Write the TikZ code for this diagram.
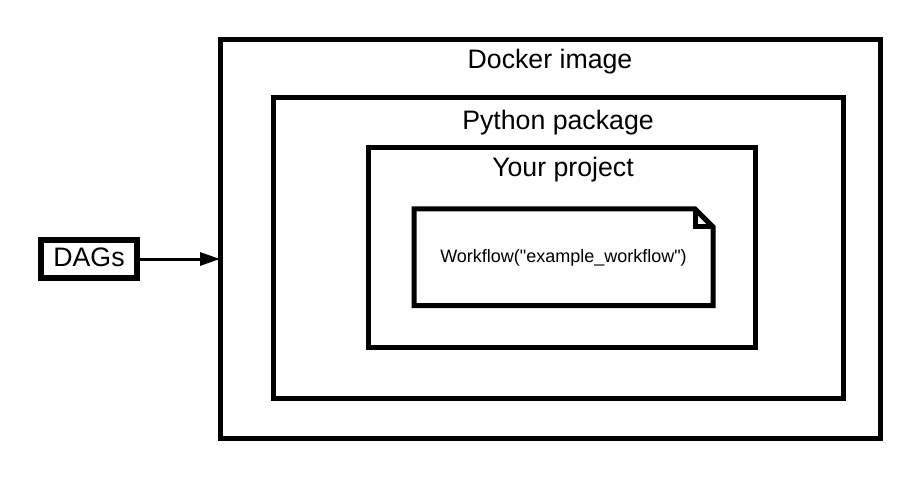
\documentclass[tikz,border=0pt]{standalone}
\usepackage{fontspec}
\setmainfont{Liberation Sans}
\newfontfamily\plainfont{Liberation Sans}[Ligatures=TeXOff]
\usetikzlibrary{arrows.meta}
\tikzset{
  box/.style={draw=black, line width=5pt, inner sep=0pt, outer sep=0pt},
  lbl/.style={anchor=base, inner sep=0pt, font=\fontsize{26.7}{30}\selectfont},
  doclbl/.style={inner sep=0pt, font=\plainfont\fontsize{18}{21}\selectfont},
  docshape/.style={draw=black, line width=5pt, line join=miter},
  conn/.style={line width=3pt, -{Triangle[length=20pt, width=13pt]}}
}
\begin{document}
\begin{tikzpicture}[x=1pt, y=-1pt]
\useasboundingbox[fill=white] (0,0) rectangle (920,478);
% boxes
\node[box, minimum width=660.5pt, minimum height=399pt] (outer) at (550.25,239) {};
\node[box, minimum width=570pt, minimum height=300pt] (python) at (558.5,248) {};
\node[box, minimum width=387.5pt, minimum height=199.5pt] (project) at (561.75,247.75) {};
% labels
\node[lbl] (outerlbl) at (550,68.5) {Docker image};
\node[lbl] (pythonlbl) at (558,129.5) {Python package};
\node[lbl] (projectlbl) at (563,176.5) {Your project};
% document
\node[inner sep=0pt, outer sep=0pt, minimum width=299pt, minimum height=96.5pt] (doc) at (563.5,257.25) {};
\draw[docshape] (doc.north west) -- ([xshift=-18pt]doc.north east) -- ([yshift=-18pt]doc.north east) -- (doc.south east) -- (doc.south west) -- cycle;
\draw[docshape] ([xshift=-18pt]doc.north east) |- ([yshift=-18pt]doc.north east);
\node[doclbl, anchor=base] (doctext) at (563.5,262) {Workflow("example\_workflow")};
% DAGs
\node[draw=black, line width=6pt, inner sep=0pt, outer sep=0pt, minimum width=96pt, minimum height=38pt] (dags) at (89,259) {};
\node[lbl] (dagslbl) at (89,266.5) {DAGs};
\draw[conn] (dags.east) -- (dags.east -| outer.west);
\end{tikzpicture}
\end{document}
